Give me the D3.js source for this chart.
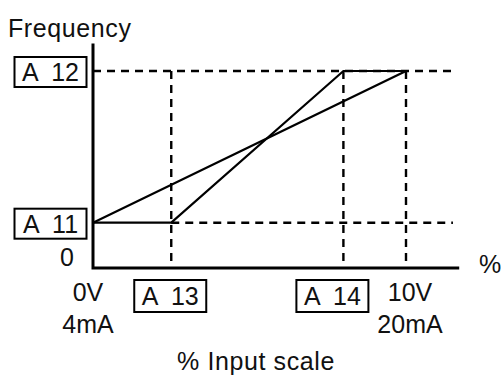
<!DOCTYPE html>
<html>
<head>
<meta charset="utf-8">
<script src="https://cdn.jsdelivr.net/npm/d3@7"></script>
<style>
  html, body { margin: 0; padding: 0; background: #fff; }
  svg { display: block; }
  text { font-family: "Liberation Sans", Arial, Helvetica, sans-serif; fill: #111; }
</style>
</head>
<body>
<svg id="chart" width="503" height="377"></svg>
<script>
// Input positions (% of input scale) for the marked points on the x axis
const inputValues = [0, 25, 80, 100];
const inputLabels = [["0V", "4mA"], ["A 13"], ["A 14"], ["10V", "20mA"]];
const inputBoxed = [false, true, true, false];

// Output frequency levels (% of max) marked on the y axis
const freqValues = [0, 23, 100];
const freqLabels = ["0", "A 11", "A 12"];
const freqBoxed = [false, true, true];

// Straight characteristic: A11 at 0 % input up to A12 at 100 % input
const directX = [0, 100];
const directY = [23, 100];

// Characteristic with start/end points: flat at A11 until A13, ramp to A12 at A14, flat after
const rampX = [0, 25, 80, 100];
const rampY = [23, 23, 100, 100];

const axisMaxX = 117;
const axisMaxY = 114;
const guideMaxX = 115;

const svg = d3.select("#chart");
const x = d3.scaleLinear().domain([0, 100]).range([93, 406]);
const y = d3.scaleLinear().domain([0, 100]).range([268, 71]);

const line = d3.line().x(d => x(d[0])).y(d => y(d[1]));

// Dashed guide lines
const guides = svg.append("g")
  .attr("fill", "none").attr("stroke", "#000")
  .attr("stroke-width", 2.4).attr("stroke-dasharray", "8,6");

// horizontal guide at A12 across the whole width
guides.append("path").attr("d", line([[0, freqValues[2]], [guideMaxX, freqValues[2]]]));
// horizontal guide at A11 from A13 onward
guides.append("path").attr("d", line([[inputValues[1], freqValues[1]], [guideMaxX, freqValues[1]]]));
// vertical guides at A13, A14 and 100 %
[1, 2, 3].forEach(i => {
  guides.append("path").attr("d", line([[inputValues[i], freqValues[2]], [inputValues[i], 0]]));
});

// Characteristic lines
const curves = svg.append("g").attr("fill", "none").attr("stroke", "#000")
  .attr("stroke-width", 2.2).attr("stroke-linejoin", "miter");
curves.append("path").attr("d", line(directX.map((v, i) => [v, directY[i]])));
curves.append("path").attr("d", line(rampX.map((v, i) => [v, rampY[i]])));

// Axes
svg.append("path")
  .attr("d", line([[0, axisMaxY], [0, 0], [axisMaxX, 0]]))
  .attr("fill", "none").attr("stroke", "#000").attr("stroke-width", 3)
  .attr("stroke-linejoin", "miter");

const fs = 25;

// Axis titles
svg.append("text").attr("x", 8).attr("y", 37).attr("font-size", fs)
  .attr("letter-spacing", 0.6).text("Frequency");
svg.append("text").attr("x", 479).attr("y", 273).attr("font-size", fs).text("%");
svg.append("text").attr("x", 256).attr("y", 370).attr("font-size", fs)
  .attr("letter-spacing", 0.6).attr("text-anchor", "middle").text("% Input scale");

// helper: boxed label
function boxed(g, cx, cy, label, w, h) {
  g.append("rect").attr("x", cx - w / 2).attr("y", cy - h / 2)
    .attr("width", w).attr("height", h)
    .attr("fill", "#fff").attr("stroke", "#000").attr("stroke-width", 2);
  g.append("text").attr("x", cx).attr("y", cy + 9).attr("font-size", fs)
    .attr("text-anchor", "middle")
    .style("white-space", "pre").text(label.replace(" ", "  "));
}

// Y labels
const yl = svg.append("g");
freqValues.forEach((v, i) => {
  if (freqBoxed[i]) {
    boxed(yl, 50.5, y(v) + 1, freqLabels[i], 72, 30);
  } else {
    yl.append("text").attr("x", 67).attr("y", y(v) - 2).attr("font-size", fs)
      .attr("text-anchor", "middle").text(freqLabels[i]);
  }
});

// X labels
const xl = svg.append("g");
const xOffsets = [-5, -1, -11, 4];
inputValues.forEach((v, i) => {
  const cx = x(v) + xOffsets[i];
  if (inputBoxed[i]) {
    boxed(xl, cx, 296, inputLabels[i][0], 72, 32);
  } else {
    inputLabels[i].forEach((t, k) => {
      xl.append("text").attr("x", cx).attr("y", 301 + k * 32).attr("font-size", fs)
        .attr("text-anchor", "middle").text(t);
    });
  }
});
</script>
</body>
</html>
